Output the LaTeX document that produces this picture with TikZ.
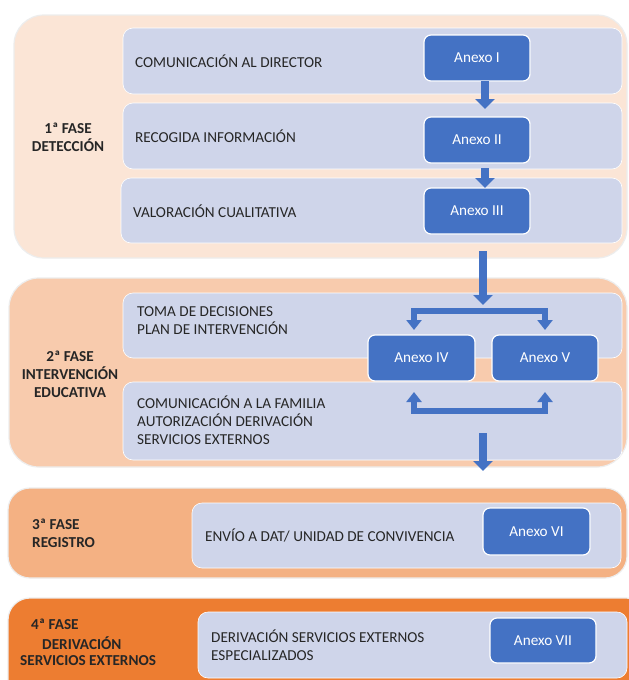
\documentclass[tikz,border=0pt]{standalone}
\usepackage{fontspec}
\setmainfont{Carlito}
\usetikzlibrary{arrows.meta}
\definecolor{pA}{HTML}{FBE5D6}
\definecolor{pB}{HTML}{F8CBAD}
\definecolor{pC}{HTML}{F4B183}
\definecolor{pD}{HTML}{ED7D31}
\definecolor{rowc}{HTML}{CFD5EA}
\definecolor{ablue}{HTML}{4472C4}
\definecolor{txt}{HTML}{262626}
\newcommand\fsz{\fontsize{15.2pt}{18pt}\selectfont}
\tikzset{
  phase/.style={rounded corners=30pt, draw=black!7, line width=1.2pt, inner sep=0pt, outer sep=0pt, anchor=north west},
  rowbox/.style={fill=rowc, draw=white, line width=0.6pt, rounded corners=10pt, inner sep=0pt, outer sep=0pt, anchor=north west},
  anexo/.style={draw=white, line width=1.2pt, fill=ablue, rounded corners=7pt, text=white, font=\fsz, inner sep=0pt, outer sep=0pt, anchor=north west, minimum width=106pt, minimum height=46pt},
  rowtxt/.style={anchor=west, align=left, inner sep=0pt, text=txt, font=\fsz},
  phtxt/.style={align=center, inner sep=0pt, text=txt, font=\fsz\bfseries},
  bigarrow/.style={draw=ablue, line width=8.5pt, -{Triangle[width=19pt,length=10pt]}},
  brarrow/.style={draw=ablue, line width=6.5pt, -{Triangle[width=15pt,length=10pt]}},
}
\begin{document}
\begin{tikzpicture}[x=1pt,y=-1pt]
\useasboundingbox (0,0) rectangle (629,680);
\fill[white] (0,0) rectangle (629,680);
\clip (0,0) rectangle (629,680);
% phase boxes
\node[phase, fill=pA, minimum width=613pt, minimum height=243pt] (ph1) at (14,15) {};
\node[phase, fill=pB, minimum width=618pt, minimum height=189pt] (ph2) at (9,278) {};
\node[phase, fill=pC, minimum width=619pt, minimum height=90pt, rounded corners=22pt] (ph3) at (8,488) {};
\node[phase, fill=pD, minimum width=640pt, minimum height=110pt, rounded corners=22pt] (ph4) at (8,598) {};
% rows
\node[rowbox, minimum width=499pt, minimum height=66pt] (r1) at (123,28) {};
\node[rowbox, minimum width=499pt, minimum height=66pt] (r2) at (123,103) {};
\node[rowbox, minimum width=501pt, minimum height=65pt] (r3) at (121,178) {};
\node[rowbox, minimum width=499pt, minimum height=65pt] (rA) at (123,293) {};
\node[rowbox, minimum width=499pt, minimum height=78pt] (rB) at (123,382) {};
\node[rowbox, minimum width=429pt, minimum height=65pt] (rC) at (192,503) {};
\node[rowbox, minimum width=429pt, minimum height=66pt] (rD) at (198,612) {};
% row texts
\node[rowtxt] (t1) at (135,61) {COMUNICACIÓN AL DIRECTOR};
\node[rowtxt] (t2) at (135,136) {RECOGIDA INFORMACIÓN};
\node[rowtxt] (t3) at (133,211) {VALORACIÓN CUALITATIVA};
\node[rowtxt] (tA) at (137,321) {TOMA DE DECISIONES\\PLAN DE INTERVENCIÓN};
\node[rowtxt] (tB) at (137,420) {COMUNICACIÓN A LA FAMILIA\\AUTORIZACIÓN DERIVACIÓN\\SERVICIOS EXTERNOS};
\node[rowtxt] (tC) at (205,535) {ENVÍO A DAT/ UNIDAD DE CONVIVENCIA};
\node[rowtxt] (tD) at (211,645) {DERIVACIÓN SERVICIOS EXTERNOS\\ESPECIALIZADOS};
% phase labels
\node[phtxt] (l1) at (68,137) {1ª FASE\\DETECCIÓN};
\node[phtxt] (l2) at (70,374) {2ª FASE\\INTERVENCIÓN\\EDUCATIVA};
\node[phtxt, anchor=west, align=left] (l3) at (32,533.5) {3ª FASE\\REGISTRO};
\node[phtxt, anchor=west] (l4a) at (31,624) {4ª FASE};
\node[phtxt, anchor=west] (l4b) at (42,643) {DERIVACIÓN};
\node[phtxt, anchor=west] (l4c) at (20,661) {SERVICIOS EXTERNOS};
% anexos
\node[anexo] (a1) at (424,35) {Anexo I};
\node[anexo] (a2) at (424,117) {Anexo II};
\node[anexo] (a3) at (424,188) {Anexo III};
\node[anexo, minimum width=107pt] (a4) at (368,335) {Anexo IV};
\node[anexo] (a5) at (492,335) {Anexo V};
\node[anexo, minimum width=107pt, minimum height=47pt] (a6) at (483,508) {Anexo VI};
\node[anexo, minimum height=45pt] (a7) at (490,618) {Anexo VII};
% arrows
\draw[bigarrow, shorten >=8pt] ([xshift=8pt]a1.south) -- ([xshift=8pt]a2.north);
\draw[bigarrow, shorten <=5pt] ([xshift=8pt]a2.south) -- ([xshift=8pt]a3.north);
\coordinate (splitc) at (483,305);
\draw[bigarrow, shorten <=17pt] (a3.south -| splitc) -- (splitc);
\coordinate (bt) at (481,311);
\coordinate (lt) at (414,330);
\coordinate (rt) at (545,330);
\draw[brarrow] (bt) -| (lt);
\draw[brarrow] (bt) -| (rt);
\coordinate (bb) at (481,411);
\coordinate (lb) at (414,392);
\coordinate (rb) at (545,392);
\draw[brarrow] (bb) -| (lb);
\draw[brarrow] (bb) -| (rb);
\coordinate (d1) at (483,433);
\coordinate (d2) at (483,471);
\draw[bigarrow] (d1) -- (d2);
\end{tikzpicture}
\end{document}
